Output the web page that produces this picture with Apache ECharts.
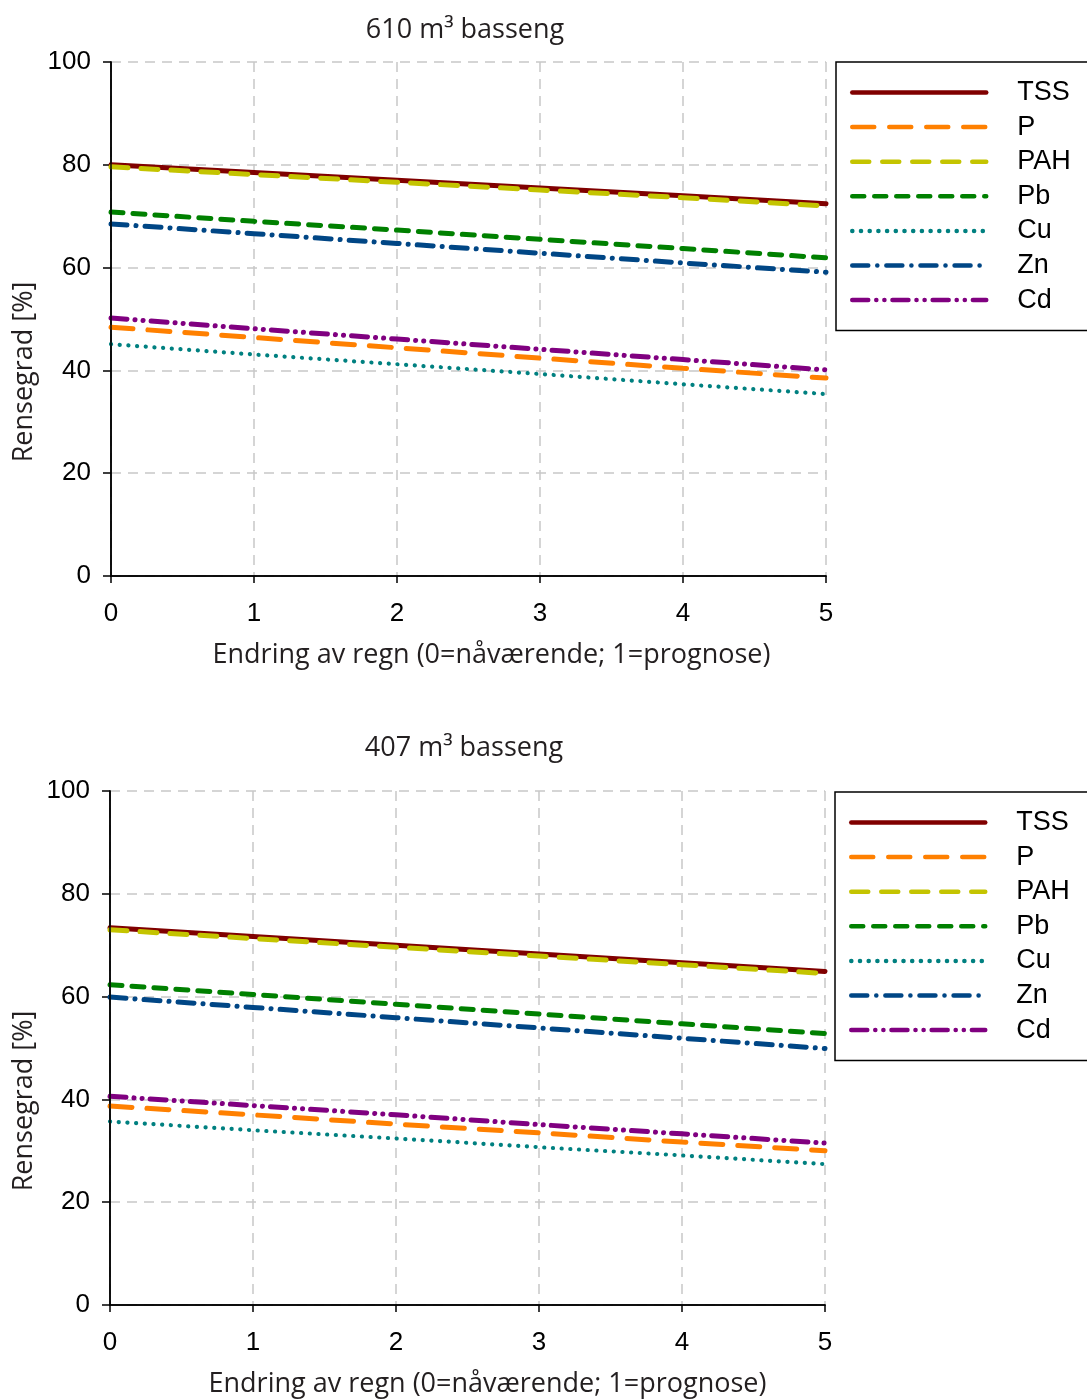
<!DOCTYPE html>
<html>
<head>
<meta charset="utf-8">
<script src="https://cdn.jsdelivr.net/npm/echarts@6/dist/echarts.min.js"></script>
<style>
html,body{margin:0;padding:0;background:#fff;}
#c{width:1087px;height:1399px;}
</style>
</head>
<body>
<div id="c"></div>
<script>
var xValues = [0, 1, 2, 3, 4, 5];
var seriesNames = ['TSS', 'P', 'PAH', 'Pb', 'Cu', 'Zn', 'Cd'];
var chartTitles = ['610 m\u00B3 basseng', '407 m\u00B3 basseng'];
var xAxisName = 'Endring av regn (0=n\u00E5v\u00E6rende; 1=prognose)';
var yAxisName = 'Rensegrad [%]';

// 610 m3 basseng
var top_TSS = [80.0, 78.5, 77.0, 75.5, 74.0, 72.4];
var top_P   = [48.4, 46.4, 44.4, 42.4, 40.4, 38.5];
var top_PAH = [79.6, 78.1, 76.6, 75.1, 73.6, 72.0];
var top_Pb  = [70.8, 69.0, 67.3, 65.5, 63.7, 61.9];
var top_Cu  = [45.1, 43.1, 41.2, 39.3, 37.3, 35.4];
var top_Zn  = [68.5, 66.6, 64.7, 62.8, 60.9, 59.1];
var top_Cd  = [50.2, 48.1, 46.1, 44.1, 42.1, 40.1];

// 407 m3 basseng
var bot_TSS = [73.4, 71.7, 70.0, 68.3, 66.6, 64.9];
var bot_P   = [38.7, 37.0, 35.2, 33.5, 31.7, 30.0];
var bot_PAH = [73.0, 71.3, 69.6, 67.9, 66.2, 64.5];
var bot_Pb  = [62.3, 60.4, 58.5, 56.6, 54.7, 52.8];
var bot_Cu  = [35.7, 34.0, 32.4, 30.7, 29.1, 27.4];
var bot_Zn  = [59.9, 57.9, 55.9, 53.9, 51.9, 49.9];
var bot_Cd  = [40.6, 38.8, 37.0, 35.1, 33.3, 31.5];

var topData = [top_TSS, top_P, top_PAH, top_Pb, top_Cu, top_Zn, top_Cd];
var botData = [bot_TSS, bot_P, bot_PAH, bot_Pb, bot_Cu, bot_Zn, bot_Cd];

var styles = {
  TSS: {color: '#800000', type: 'solid', width: 5},
  P:   {color: '#ff8000', type: [22, 15], width: 5},
  PAH: {color: '#c4c400', type: [17, 13], width: 5},
  Pb:  {color: '#008000', type: [12, 10], width: 5},
  Cu:  {color: '#008080', type: [0.1, 8.6], width: 4.2},
  Zn:  {color: '#004685', type: [16, 9, 0.1, 9], width: 5},
  Cd:  {color: '#800080', type: [16, 8, 0.1, 8, 0.1, 8], width: 5}
};

var tickFont = 'Liberation Sans, Arial, sans-serif';
var humanFont = 'Open Sans, Noto Sans, sans-serif';

function pair(arr) { return xValues.map(function (x, i) { return [x, arr[i]]; }); }

var grids = [
  {left: 111, top: 62, width: 715, height: 514},
  {left: 110, top: 791, width: 715, height: 515}
];

var frameAxisLine = {show: true, lineStyle: {color: '#000', width: 1.5}};

var xAxes = [], yAxes = [];
[0, 1].forEach(function (i) {
  xAxes.push({
    type: 'value', gridIndex: i, min: 0, max: 5, interval: 1,
    name: xAxisName, nameLocation: 'middle', nameGap: 66,
    nameTextStyle: {fontFamily: humanFont, fontSize: 27, color: '#231f20', padding: [0, 0, 0, i === 0 ? 46 : 40]},
    axisLine: {show: true, onZero: false, lineStyle: {color: '#000', width: 1.5}},
    axisTick: {show: true, length: 7, lineStyle: {color: '#000', width: 1.5}},
    axisLabel: {fontFamily: tickFont, fontSize: 26, color: '#000', margin: 25},
    splitLine: {show: true, lineStyle: {color: '#c8c8c8', type: [10, 7], width: 1.5}},
    z: 1
  });
  xAxes.push({
    type: 'value', gridIndex: i, position: 'top', min: 0, max: 5, interval: 1,
    axisLine: frameAxisLine, axisTick: {show: false}, axisLabel: {show: false},
    splitLine: {show: false}, z: 5
  });
  yAxes.push({
    type: 'value', gridIndex: i, min: 0, max: 100, interval: 20,
    axisLine: {show: true, onZero: false, lineStyle: {color: '#000', width: 1.5}},
    axisTick: {show: true, length: 8, lineStyle: {color: '#000', width: 1.5}},
    axisLabel: {fontFamily: tickFont, fontSize: 26, color: '#000', margin: 20},
    splitLine: {show: true, lineStyle: {color: '#c8c8c8', type: [10, 7], width: 1.5}},
    z: 1
  });
  yAxes.push({
    type: 'value', gridIndex: i, position: 'right', min: 0, max: 100, interval: 20,
    axisLine: frameAxisLine, axisTick: {show: false}, axisLabel: {show: false},
    splitLine: {show: false}, z: 5
  });
});

var option = {
  backgroundColor: '#fff',
  animation: false,
  title: chartTitles.map(function (t, i) {
    return {text: t, left: i === 0 ? 460 : 459, top: i === 0 ? 12 : 730, textAlign: 'center',
      textStyle: {fontFamily: humanFont, fontSize: 27, fontWeight: 'normal', color: '#231f20'}};
  }),
  grid: grids,
  legend: [0, 1].map(function (i) {
    return {
      data: seriesNames, left: i === 0 ? 836 : 835, top: i === 0 ? 62 : 792, orient: 'vertical',
      itemWidth: 134, itemHeight: 26, itemGap: 7.6, selectedMode: false,
      padding: [17, 80, 17, 14], borderColor: '#000', borderWidth: 1.5,
      itemStyle: {opacity: 0},
      lineStyle: {width: 4.5},
      textStyle: {fontFamily: tickFont, fontSize: 27, color: '#000', padding: [0, 0, 0, 26]}
    };
  }),
  xAxis: xAxes,
  yAxis: yAxes,
  graphic: [0, 1].map(function (i) {
    return {
      type: 'text', x: 24, y: i === 0 ? 372 : 1101, rotation: Math.PI / 2,
      style: {text: yAxisName, fontFamily: humanFont, fontSize: 27, fill: '#231f20',
        align: 'center', verticalAlign: 'middle'}
    };
  }),
  series: []
};

[topData, botData].forEach(function (set, gi) {
  set.forEach(function (arr, si) {
    var name = seriesNames[si];
    var st = styles[name];
    option.series.push({
      type: 'line', name: name, xAxisIndex: gi * 2, yAxisIndex: gi * 2,
      data: pair(arr), symbol: 'none', silent: true,
      lineStyle: {color: st.color, width: st.width, type: st.type, cap: 'round'},
      itemStyle: {color: st.color},
      z: si === 0 ? 2 : 3
    });
  });
});

var chart = echarts.init(document.getElementById('c'), null, {renderer: 'canvas'});
chart.setOption(option);
</script>
</body>
</html>
